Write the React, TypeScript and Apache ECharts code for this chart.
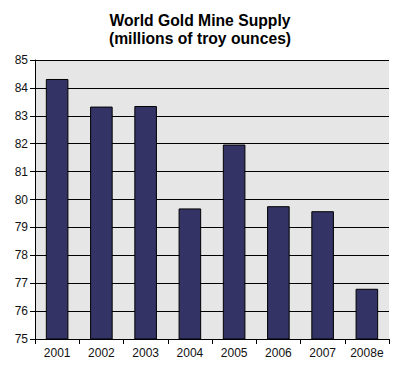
import React, { useEffect, useRef } from "react";
import * as echarts from "echarts";

const categories = ["2001", "2002", "2003", "2004", "2005", "2006", "2007", "2008e"];
const supply = [84.32, 83.33, 83.35, 79.68, 81.97, 79.76, 79.58, 76.8];
const titleLines = ["World Gold Mine Supply", "(millions of troy ounces)"];

export default function App() {
  const ref = useRef<HTMLDivElement>(null);
  useEffect(() => {
    if (!ref.current) return;
    const chart = echarts.init(ref.current, null, { renderer: "svg" });
    chart.setOption({
      animation: false,
      backgroundColor: "#ffffff",
      title: {
        text: titleLines.join("\n"),
        left: "center",
        top: 6,
        textStyle: {
          fontFamily: "Liberation Sans, Arial, sans-serif",
          fontSize: 15.7,
          fontWeight: "bold",
          color: "#000",
          lineHeight: 18,
        },
      },
      grid: {
        left: 35,
        top: 60,
        width: 354,
        height: 279,
        show: true,
        backgroundColor: "#e6e6e6",
        borderWidth: 0,
      },
      xAxis: {
        type: "category",
        data: categories,
        boundaryGap: true,
        axisLine: { lineStyle: { color: "#000", width: 1 } },
        axisTick: { show: true, alignWithLabel: false, length: 5, inside: false, lineStyle: { color: "#000" } },
        axisLabel: {
          fontFamily: "Liberation Sans, Arial, sans-serif",
          fontSize: 12,
          color: "#111",
          margin: 8,
        },
      },
      yAxis: {
        type: "value",
        min: 75,
        max: 85,
        interval: 1,
        axisLine: { show: true, lineStyle: { color: "#000", width: 1 } },
        axisTick: { show: true, length: 5, lineStyle: { color: "#000" } },
        splitLine: { show: true, lineStyle: { color: "#000", width: 1 } },
        axisLabel: {
          fontFamily: "Liberation Sans, Arial, sans-serif",
          fontSize: 12,
          color: "#111",
          margin: 7,
        },
      },
      series: [
        {
          type: "bar",
          data: supply,
          barWidth: "51%",
          itemStyle: { color: "#333366", borderColor: "#000", borderWidth: 1 },
        },
      ],
    });
    return () => chart.dispose();
  }, []);
  return (
    <div
      ref={ref}
      style={{ position: "fixed", left: 0, top: 0, width: 400, height: 374 }}
    />
  );
}
